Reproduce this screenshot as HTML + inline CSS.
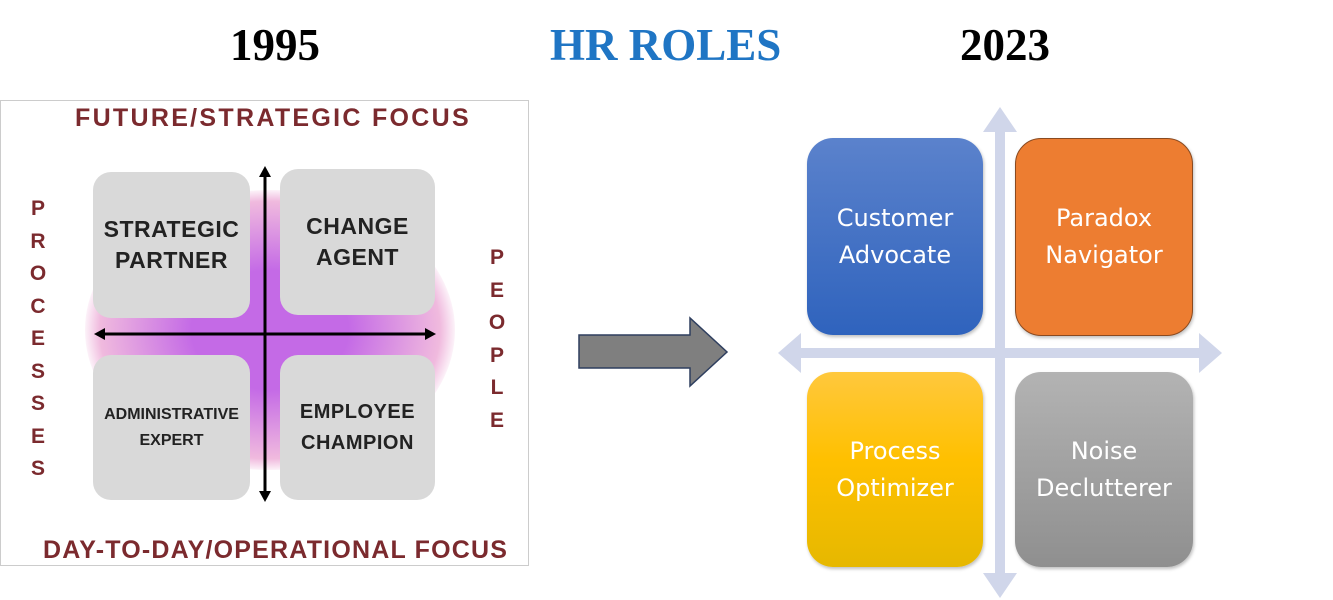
<!DOCTYPE html>
<html><head><style>
body{margin:0;width:1333px;height:600px;background:#fff;position:relative;overflow:hidden;font-family:"Liberation Sans",sans-serif}
.t{position:absolute;font-family:"Liberation Serif",serif;font-weight:bold;font-size:45px;top:19px;line-height:52px}
.lb{position:absolute;background:#d9d9d9;border-radius:18px;display:flex;align-items:center;justify-content:center;text-align:center;font-weight:bold;color:#222;font-size:23px;line-height:31px;letter-spacing:0.5px}
.rb{position:absolute;border-radius:26px;display:flex;align-items:center;justify-content:center;text-align:center;color:#fff;font-family:"DejaVu Sans",sans-serif;font-size:24px;line-height:37px;box-shadow:1px 2px 3px rgba(0,0,0,.25)}
.mar{position:absolute;color:#7b2a2e;font-weight:bold;font-size:25px;white-space:nowrap}
.v{position:absolute;color:#7b2a2e;font-weight:bold;font-size:21px;width:20px;text-align:center;line-height:32.5px}
</style></head><body>
<div class="t" style="left:230px">1995</div>
<div class="t" style="left:550px;color:#1f75c4">HR ROLES</div>
<div class="t" style="left:960px">2023</div>

<div style="position:absolute;left:0;top:100px;width:529px;height:466px;border:1px solid #ccc;box-sizing:border-box"></div>
<div class="mar" style="left:75px;top:104px;letter-spacing:2.3px">FUTURE/STRATEGIC FOCUS</div>
<div class="mar" style="left:43px;top:536px;letter-spacing:1.2px">DAY-TO-DAY/OPERATIONAL FOCUS</div>
<div class="v" style="left:28px;top:193px">P<br>R<br>O<br>C<br>E<br>S<br>S<br>E<br>S</div>
<div class="v" style="left:487px;top:242px">P<br>E<br>O<br>P<br>L<br>E</div>
<div style="position:absolute;left:85px;top:190px;width:370px;height:280px;border-radius:50%;background:radial-gradient(ellipse,#c46ae6 30%,rgba(230,140,200,.6) 65%,rgba(255,255,255,0) 72%)"></div>
<div class="lb" style="left:93px;top:172px;width:157px;height:146px">STRATEGIC<br>PARTNER</div>
<div class="lb" style="left:280px;top:169px;width:155px;height:146px">CHANGE<br>AGENT</div>
<div class="lb" style="left:93px;top:355px;width:157px;height:145px;font-size:16px;line-height:26px;letter-spacing:0">ADMINISTRATIVE<br>EXPERT</div>
<div class="lb" style="left:280px;top:355px;width:155px;height:145px;font-size:20px">EMPLOYEE<br>CHAMPION</div>
<svg style="position:absolute;left:0;top:0" width="1333" height="600">
<line x1="265" y1="172" x2="265" y2="496" stroke="#000" stroke-width="3"/>
<polygon points="265,166 259,177 271,177"/><polygon points="265,502 259,491 271,491"/>
<line x1="100" y1="334" x2="430" y2="334" stroke="#000" stroke-width="3"/>
<polygon points="94,334 105,328 105,340"/><polygon points="436,334 425,328 425,340"/>
<polygon points="579,335 690,335 690,318 727,352 690,386 690,368 579,368" fill="#7f7f7f" stroke="#2f3f5f" stroke-width="1.5"/>
<g fill="#d0d6ea">
<rect x="995" y="130" width="10" height="445"/>
<polygon points="1000,107 983,132 1017,132"/><polygon points="1000,598 983,573 1017,573"/>
<rect x="798" y="348" width="404" height="10"/>
<polygon points="778,353 801,333 801,373"/><polygon points="1222,353 1199,333 1199,373"/>
</g>
</svg>
<div class="rb" style="left:807px;top:138px;width:176px;height:197px;background:linear-gradient(#5b82cc,#2f63bd)">Customer<br>Advocate</div>
<div class="rb" style="left:1015px;top:138px;width:178px;height:198px;background:#ed7d31;border:1px solid #8a4a20;box-sizing:border-box">Paradox<br>Navigator</div>
<div class="rb" style="left:807px;top:372px;width:176px;height:195px;background:linear-gradient(#ffc83d,#ffc000 45%,#e6b800)">Process<br>Optimizer</div>
<div class="rb" style="left:1015px;top:372px;width:178px;height:195px;background:linear-gradient(#b3b3b3,#8f8f8f)">Noise<br>Declutterer</div>
</body></html>
